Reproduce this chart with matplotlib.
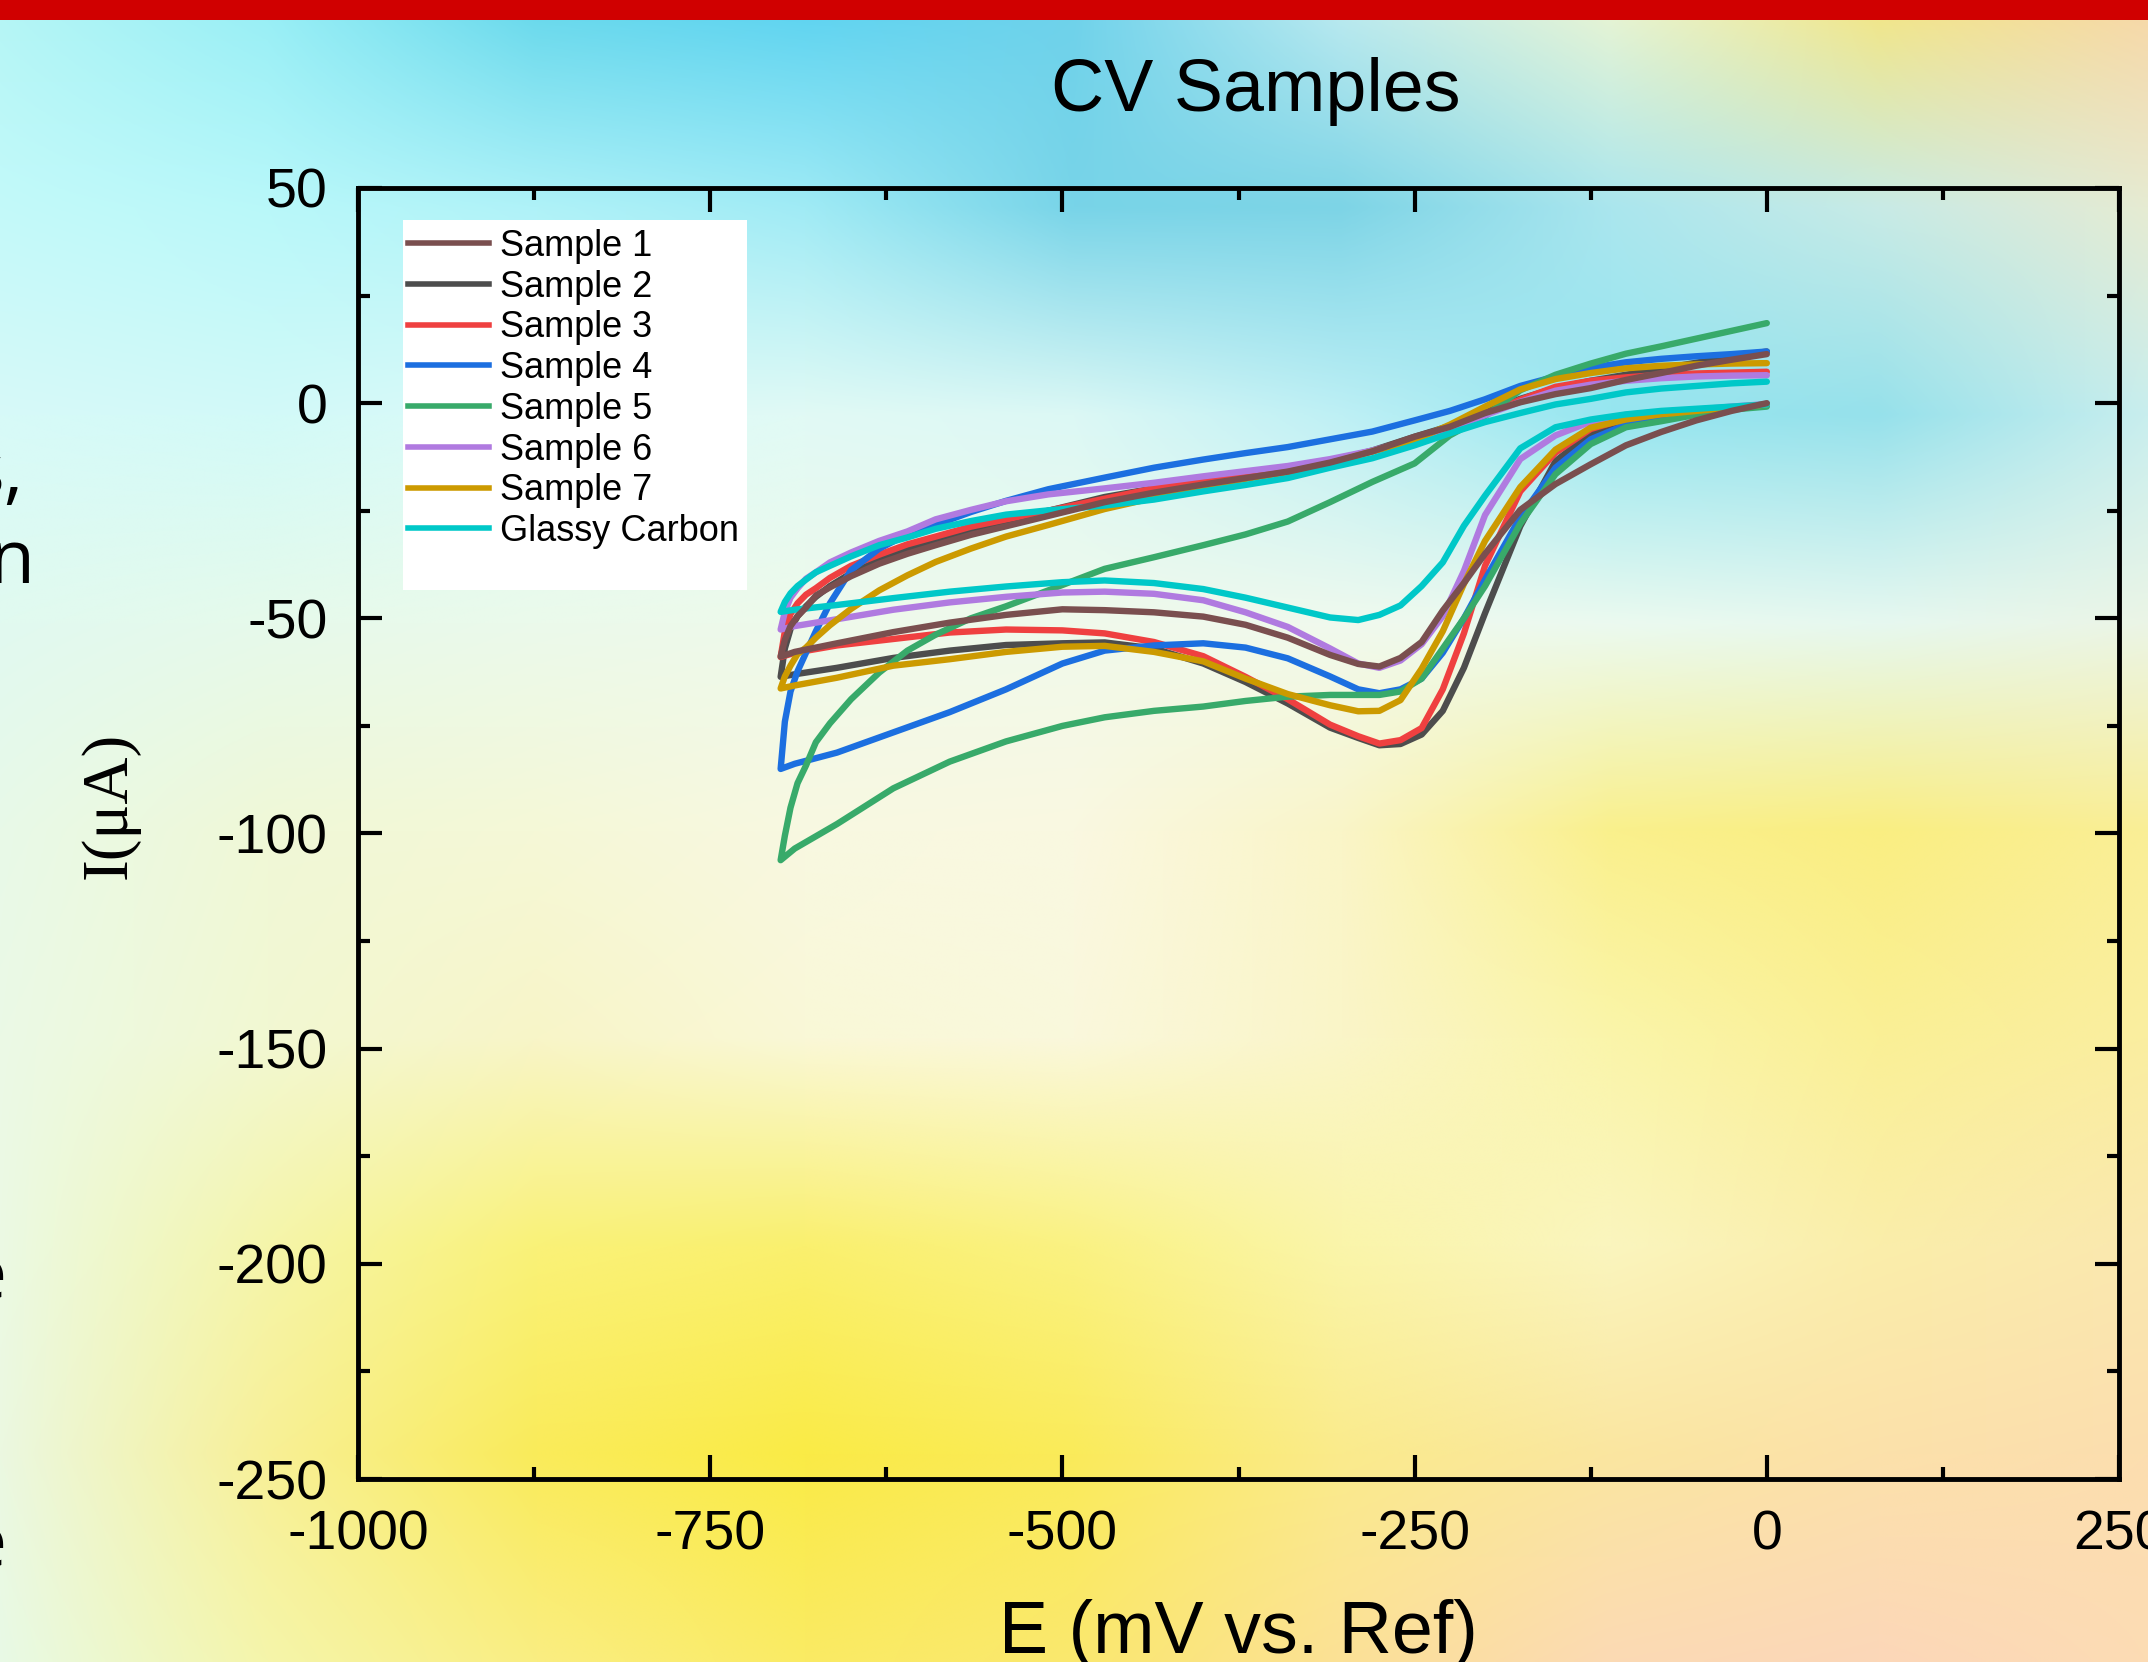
import numpy as np
import matplotlib.pyplot as plt
from matplotlib.patches import Rectangle
from matplotlib.lines import Line2D
from matplotlib.ticker import MultipleLocator

plt.rcParams['font.family'] = ['Liberation Sans', 'DejaVu Sans']
plt.rcParams['axes.unicode_minus'] = False

# potential grids (mV): cathodic sweep 0 -> -700, return sweep -700 -> 0
E_lower = [0, -25, -50, -75, -100, -125, -150, -175, -200, -215, -230, -245, -260, -275,
           -290, -310, -340, -370, -400, -435, -470, -500, -540, -580, -620, -660, -690, -700]
E_upper = [-700, -697, -693, -688, -682, -675, -665, -650, -630, -610, -590, -565, -540, -510,
           -470, -435, -400, -370, -340, -310, -280, -250, -225, -200, -175, -150, -125, -100,
           -75, -50, -25, 0]

# current (uA)
s1_lower = [0.0, -1.8, -4.0, -6.7, -9.8, -14.2, -18.8, -24.8, -35.0, -41.8, -48.2, -55.5, -59.2, -61.2,
            -60.6, -58.5, -54.5, -51.5, -49.6, -48.6, -48.1, -47.9, -49.2, -51.0, -53.2, -55.8, -57.8, -58.9]
s1_upper = [-58.9, -55.0, -51.8, -49.5, -47.5, -44.7, -42.8, -40.2, -37.3, -35.0, -33.0, -30.6, -28.6, -26.2,
            -23.0, -20.8, -18.9, -17.4, -15.9, -13.8, -11.2, -7.8, -5.5, -2.3, 0.2, 2.1, 3.5, 5.4,
            7.0, 8.7, 10.1, 11.4]

s2_lower = [-0.3, -1.3, -2.3, -3.0, -4.3, -7.0, -13.5, -28.6, -48.8, -61.5, -71.5, -77.0, -79.2, -79.5,
            -77.8, -75.4, -69.8, -64.8, -60.5, -57.0, -55.6, -55.8, -56.2, -57.5, -59.2, -61.5, -63.0, -63.6]
s2_upper = [-63.6, -57.0, -52.5, -49.5, -47.2, -45.0, -42.5, -39.5, -36.5, -34.0, -31.8, -29.4, -27.4, -25.0,
            -21.8, -19.8, -18.2, -16.8, -15.3, -13.5, -11.0, -7.8, -5.3, -2.0, 1.0, 3.5, 5.2, 6.6,
            8.0, 9.4, 10.8, 12.0]

s3_lower = [-0.3, -1.2, -1.8, -2.6, -3.6, -6.0, -11.5, -20.5, -37.8, -53.5, -66.5, -75.5, -78.3, -79.1,
            -77.4, -74.7, -68.8, -63.6, -58.8, -55.5, -53.5, -52.8, -52.6, -53.3, -54.8, -56.3, -58.0, -59.0]
s3_upper = [-59.0, -53.0, -49.0, -46.5, -44.5, -43.0, -40.6, -37.8, -35.2, -32.8, -31.0, -28.7, -27.0, -25.0,
            -22.2, -19.8, -17.6, -16.2, -14.8, -13.2, -11.2, -8.6, -6.0, -2.5, 0.8, 3.8, 5.2, 6.0,
            6.6, 6.9, 7.1, 7.3]

s4_lower = [-0.5, -1.0, -2.0, -3.3, -5.0, -8.4, -15.0, -26.5, -41.0, -50.0, -58.0, -64.0, -66.5, -67.4,
            -66.5, -63.5, -59.3, -56.8, -55.8, -56.3, -57.5, -60.5, -66.5, -71.8, -76.5, -81.2, -83.8, -85.0]
s4_upper = [-85.0, -74.0, -67.0, -62.3, -58.0, -53.0, -46.5, -38.8, -33.8, -30.5, -28.3, -25.3, -22.7, -20.0,
            -17.3, -15.0, -13.1, -11.6, -10.2, -8.4, -6.6, -4.0, -1.8, 0.9, 4.0, 6.2, 8.2, 9.5,
            10.3, 10.9, 11.4, 12.0]

s5_lower = [-0.8, -1.5, -2.7, -4.2, -5.6, -9.5, -16.5, -28.0, -42.5, -50.0, -57.0, -64.0, -67.0, -67.8,
            -67.8, -67.8, -68.2, -69.2, -70.5, -71.5, -73.0, -75.0, -78.6, -83.3, -89.5, -97.8, -103.5, -106.2]
s5_upper = [-106.2, -100.5, -94.0, -88.3, -84.2, -78.8, -74.4, -68.8, -62.6, -57.5, -53.8, -50.0, -47.2, -43.5,
            -38.5, -35.8, -33.0, -30.5, -27.5, -23.0, -18.3, -14.0, -7.5, -3.0, 3.0, 6.6, 9.2, 11.5,
            13.2, 15.0, 16.8, 18.6]

s6_lower = [-0.2, -0.8, -1.5, -2.0, -2.7, -4.3, -7.5, -13.0, -26.0, -39.0, -49.5, -56.0, -59.8, -61.5,
            -60.5, -57.0, -52.0, -48.6, -45.8, -44.3, -43.8, -44.0, -45.0, -46.3, -48.0, -50.2, -51.8, -52.6]
s6_upper = [-52.6, -48.5, -45.2, -43.0, -40.8, -39.3, -37.0, -34.7, -32.0, -29.8, -27.0, -24.8, -22.8, -21.2,
            -19.8, -18.5, -17.0, -15.8, -14.6, -13.0, -11.0, -8.4, -6.0, -2.8, 0.3, 2.9, 4.3, 5.2,
            5.8, 6.2, 6.4, 6.5]

s7_lower = [-0.3, -1.0, -1.8, -2.6, -3.8, -5.7, -10.8, -19.5, -32.0, -42.0, -53.0, -61.7, -69.0, -71.5,
            -71.6, -70.2, -67.6, -64.0, -60.0, -57.8, -56.4, -56.6, -57.8, -59.5, -61.0, -63.8, -65.6, -66.3]
s7_upper = [-66.3, -63.5, -61.0, -58.3, -56.8, -54.5, -51.6, -47.8, -43.5, -40.0, -36.9, -33.8, -31.0, -28.3,
            -24.6, -22.0, -19.4, -17.6, -16.0, -14.0, -11.2, -8.6, -5.0, -0.8, 3.2, 5.6, 7.0, 8.1,
            8.7, 9.0, 9.2, 9.3]

gc_lower = [-0.3, -0.8, -1.3, -1.8, -2.6, -3.8, -5.6, -10.5, -21.5, -28.5, -37.0, -42.5, -47.0, -49.2,
            -50.4, -49.8, -47.5, -45.2, -43.2, -41.8, -41.2, -41.6, -42.6, -43.8, -45.3, -46.9, -48.0, -48.5]
gc_upper = [-48.5, -46.2, -44.2, -42.5, -41.0, -39.3, -37.8, -35.6, -33.0, -31.2, -29.2, -27.4, -25.9, -24.9,
            -23.8, -22.4, -20.5, -19.0, -17.4, -15.0, -12.8, -9.8, -7.0, -4.4, -2.3, -0.3, 1.0, 2.5,
            3.4, 4.0, 4.6, 5.0]

labels = ['Sample 1', 'Sample 2', 'Sample 3', 'Sample 4', 'Sample 5', 'Sample 6', 'Sample 7', 'Glassy Carbon']
colors = ['#7a4f4f', '#4d4d4d', '#ef4040', '#1c6fe0', '#38aa6a', '#b07ae0', '#cc9a00', '#00c8c8']
lowers = [s1_lower, s2_lower, s3_lower, s4_lower, s5_lower, s6_lower, s7_lower, gc_lower]
uppers = [s1_upper, s2_upper, s3_upper, s4_upper, s5_upper, s6_upper, s7_upper, gc_upper]
draw_order = [1, 2, 3, 4, 5, 6, 7, 0]   # Sample 1 ends up on top

# blurred slide background, RGB samples on a coarse grid (top row first)
bg_colors = [
    [(180, 245, 245), (150, 238, 245), (100, 215, 235), (90, 210, 240), (110, 210, 235), (190, 235, 240), (235, 245, 210), (245, 230, 130), (248, 215, 165)],
    [(195, 250, 250), (185, 248, 250), (175, 242, 248), (160, 235, 245), (120, 212, 232), (125, 212, 230), (170, 230, 238), (200, 235, 230), (230, 235, 210)],
    [(215, 250, 248), (210, 250, 248), (220, 250, 248), (225, 250, 245), (220, 248, 245), (190, 240, 245), (150, 230, 240), (150, 225, 235), (200, 238, 238)],
    [(225, 250, 240), (230, 250, 235), (235, 250, 235), (238, 250, 235), (240, 250, 235), (240, 250, 238), (235, 250, 240), (230, 248, 240), (235, 245, 230)],
    [(232, 250, 232), (240, 248, 215), (245, 248, 215), (248, 248, 225), (250, 248, 225), (250, 245, 200), (250, 240, 140), (250, 238, 130), (250, 238, 150)],
    [(235, 250, 230), (242, 248, 210), (248, 245, 200), (250, 248, 215), (250, 248, 220), (250, 245, 200), (250, 245, 170), (250, 240, 150), (250, 238, 160)],
    [(235, 250, 228), (245, 245, 170), (250, 242, 120), (250, 240, 110), (250, 242, 130), (250, 245, 170), (250, 245, 190), (250, 238, 170), (250, 232, 175)],
    [(235, 248, 225), (248, 240, 150), (250, 235, 90), (250, 235, 70), (250, 235, 90), (250, 235, 140), (250, 230, 160), (252, 225, 170), (252, 222, 175)],
    [(232, 250, 230), (245, 245, 170), (250, 238, 130), (250, 235, 100), (250, 232, 110), (252, 225, 150), (252, 218, 180), (252, 215, 185), (252, 220, 180)],
]

W, H = 2148, 1662
fig = plt.figure(figsize=(W / 100, H / 100), dpi=100)

bg = fig.add_axes([0, 0, 1, 1], zorder=-10)
img = np.array(bg_colors, dtype=float) / 255
n_r, n_c = img.shape[:2]
bg.imshow(img, aspect='auto', interpolation='bilinear',
          extent=[-0.5 / (n_c - 1), 1 + 0.5 / (n_c - 1), -0.5 / (n_r - 1), 1 + 0.5 / (n_r - 1)])
bg.set_xlim(0, 1)
bg.set_ylim(0, 1)
bg.axis('off')
fig.add_artist(Rectangle((0, 1 - 20 / H), 1, 20 / H, transform=fig.transFigure,
                         facecolor='#d00000', edgecolor='none'))

# bits of slide text cut by the left edge
frag_kw = dict(ha='right', va='baseline', fontsize=54, family=['Open Sans', 'DejaVu Sans'])
fig.text(23 / W, 1 - 495 / H, 's,', **frag_kw)
fig.text(35 / W, 1 - 583 / H, 'n', **frag_kw)
fig.text(7 / W, 1 - 1300 / H, 'e', **frag_kw)
fig.text(7 / W, 1 - 1567 / H, 'e', **frag_kw)

ax = fig.add_axes([358 / W, 1 - 1479 / H, 1761 / W, 1291 / H])
ax.set_facecolor('none')

for i in draw_order:
    ax.plot(E_lower + E_upper, lowers[i] + uppers[i], color=colors[i], lw=4.6,
            solid_joinstyle='round', solid_capstyle='round', zorder=3 + draw_order.index(i) * 0.01)

ax.set_xlim(-1000, 250)
ax.set_ylim(-250, 50)
ax.xaxis.set_major_locator(MultipleLocator(250))
ax.xaxis.set_minor_locator(MultipleLocator(125))
ax.yaxis.set_major_locator(MultipleLocator(50))
ax.yaxis.set_minor_locator(MultipleLocator(25))
ax.tick_params(which='both', direction='in', top=True, right=True, width=3, color='black')
ax.tick_params(which='major', length=17, labelsize=40, pad=22)
ax.tick_params(which='minor', length=8.5)
for sp in ax.spines.values():
    sp.set_linewidth(3.5)

fig.text(1256 / W, 1 - 92 / H, 'CV Samples', ha='center', va='center', fontsize=53)

ax.set_xlabel('E (mV vs. Ref)', fontsize=53, va='baseline')
ax.xaxis.set_label_coords(0.5, (H - 1653 - (H - 1479)) / 1291)
ax.set_ylabel('I(μA)', fontsize=47, family=['Liberation Serif', 'DejaVu Serif'])
ax.yaxis.set_label_coords((140 - 358) / 1761, 1 - (805 - 188) / 1291)

# legend: white panel a bit taller than the entries
ax.add_patch(Rectangle(((403 - 358) / 1761, 1 - (590 - 188) / 1291), (747 - 403) / 1761, (590 - 220) / 1291,
                       transform=ax.transAxes, facecolor='white', edgecolor='none', zorder=4))
handles = [Line2D([], [], color=c, lw=4.0) for c in colors]
leg = ax.legend(handles, labels, loc='upper left', bbox_to_anchor=((408 - 358) / 1761, 1 - (229 - 188) / 1291),
                frameon=False, fontsize=26, handlelength=2.24, handletextpad=0.3, labelspacing=0.158,
                borderpad=0, borderaxespad=0)
leg.set_zorder(5)

fig.savefig('out.png', dpi=100)
